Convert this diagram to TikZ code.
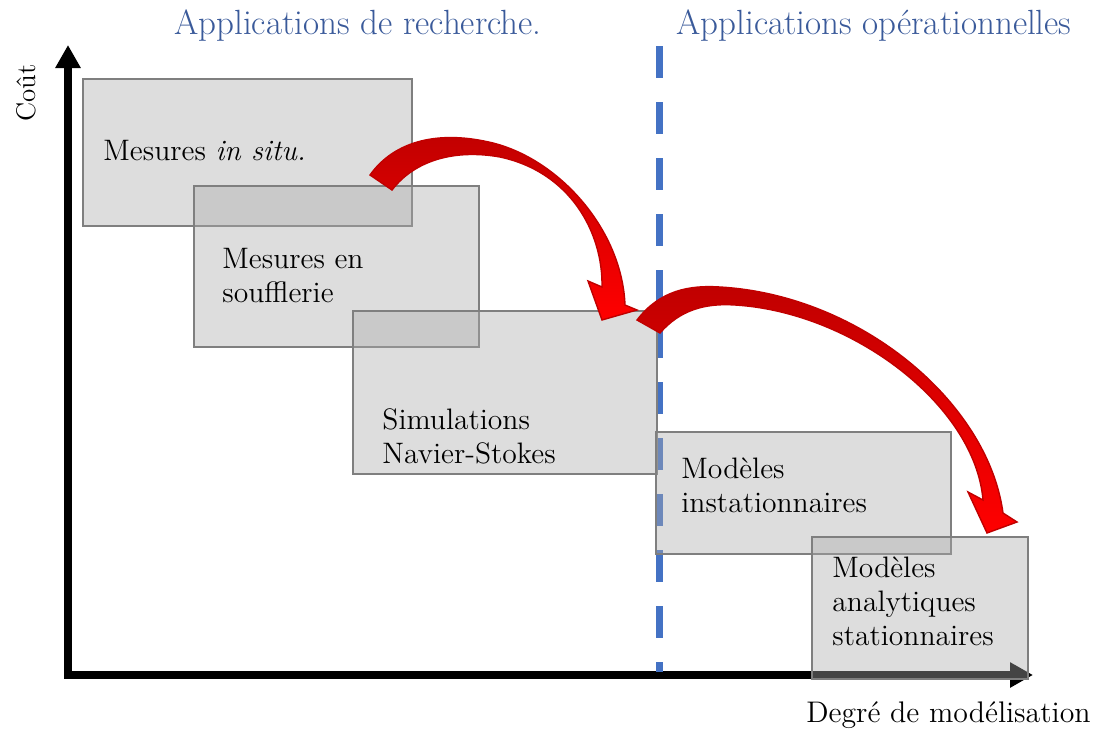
\documentclass[tikz,border=0pt]{standalone}
\usepackage{fontspec}
\usetikzlibrary{arrows.meta}
\definecolor{boxfill}{RGB}{171,171,171}
\definecolor{boxline}{RGB}{127,127,127}
\definecolor{dashblue}{RGB}{68,114,196}
\definecolor{headblue}{RGB}{58,90,154}
\definecolor{darkred}{RGB}{192,0,0}
\begin{document}
\begin{tikzpicture}[x=0.5pt,y=-0.5pt,
  box/.style={draw=boxline, line width=1.25pt, fill=boxfill, fill opacity=0.4, draw opacity=1, inner sep=0pt, outer sep=0pt, anchor=north west},
  lbl/.style={anchor=base west, inner sep=0pt, align=left, font=\fontsize{14.8}{17}\selectfont},
  head/.style={anchor=base, inner sep=0pt, text=headblue, font=\fontsize{17.5}{20}\selectfont},
  axis/.style={line width=4pt, {Triangle[length=11.5pt,width=12pt]}-{Triangle[length=11.5pt,width=12pt]}},
  bigarrow/.style={top color=darkred, bottom color=red, draw=darkred, line width=0.7pt, line join=miter}]
\useasboundingbox (0,0) rectangle (1097,729);

% axes
\coordinate (ytip) at (68,45);
\coordinate (O) at (68,675);
\coordinate (xtip) at (1033,675);
\draw[axis] (ytip) -- (O) -- (xtip);

% dashed separator
\coordinate (dtop) at (659,46);
\coordinate (dbot) at (659,672);
\draw[dashblue, line width=3.5pt, dash pattern=on 16pt off 12pt] (dtop) -- (dbot);

% boxes
\node[box, minimum width=164.5pt, minimum height=73.5pt] (b1) at (83,79) {};
\node[box, minimum width=142.5pt, minimum height=80.5pt] (b2) at (194,186) {};
\node[box, minimum width=152pt, minimum height=81.5pt] (b3) at (353,311) {};
\node[box, minimum width=147.5pt, minimum height=61pt] (b4) at (656,432) {};
\node[box, minimum width=108pt, minimum height=71pt] (b5) at (812,537) {};

% box labels (base anchor = baseline of the last line)
\node[lbl] (t1) at (103,160) {Mesures \textit{in situ.}};
\node[lbl] (t2) at (222,302) {Mesures en\\soufflerie};
\node[lbl] (t3) at (382,463) {Simulations\\Navier-Stokes};
\node[lbl] (t4) at (681,512) {Modèles\\instationnaires};
\node[lbl] (t5) at (832,645) {Modèles\\analytiques\\stationnaires};

% headers
\node[head] (h1) at (358,34) {Applications de recherche.};
\node[head] (h2) at (874,34) {Applications opérationnelles};

% axis labels
\node[anchor=base east, inner sep=0pt, font=\fontsize{14.9}{17}\selectfont] (xl) at (1091,722) {Degré de modélisation};
\node[rotate=90, anchor=base west, inner sep=0pt, font=\fontsize{13.5}{16}\selectfont] (yl) at (35,122) {Coût};

% curved block arrows
\path[bigarrow] (370,175) .. controls (395,140) and (440,130) .. (493,143)
  .. controls (560,160) and (622,230) .. (625,305)
  -- (637,310) -- (602,320) -- (588,281) -- (602,287)
  .. controls (603,232) and (570,172) .. (500,157)
  .. controls (455,149) and (415,160) .. (392,190) -- cycle;
\path[bigarrow] (637,320) .. controls (660,290) and (690,285) .. (720,287)
  .. controls (860,295) and (988,402) .. (1003,513)
  -- (1017,522) -- (987,533) -- (968,492) -- (983,500)
  .. controls (975,405) and (852,312) .. (735,305)
  .. controls (705,303) and (680,310) .. (660,333) -- cycle;
\end{tikzpicture}
\end{document}
